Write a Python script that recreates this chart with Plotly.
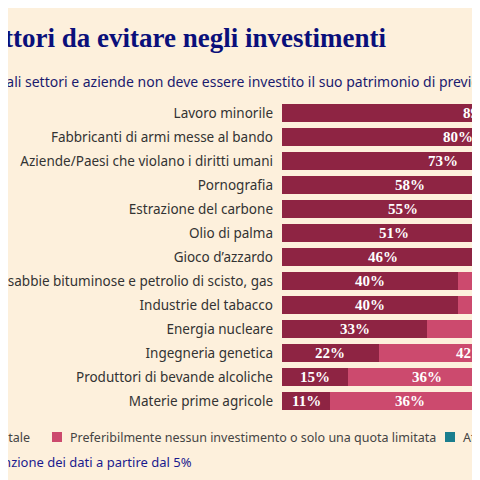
import plotly.graph_objects as go

categories = ["Lavoro minorile", "Fabbricanti di armi messe al bando", "Aziende/Paesi che violano i diritti umani",
              "Pornografia", "Estrazione del carbone", "Olio di palma", "Gioco d’azzardo",
              "Petrolio da sabbie bituminose e petrolio di scisto, gas", "Industrie del tabacco",
              "Energia nucleare", "Ingegneria genetica", "Produttori di bevande alcoliche", "Materie prime agricole"]
totale = [89, 80, 73, 58, 55, 51, 46, 40, 40, 33, 22, 15, 11]
limitata = [7, 12, 18, 28, 32, 36, 38, 42, 40, 40, 42, 36, 36]
neutro = [3, 5, 6, 10, 9, 9, 11, 13, 14, 19, 25, 35, 40]
names = ["Nessun investimento totale", "Preferibilmente nessun investimento o solo una quota limitata",
         "Atteggiamento neutro"]
colors = ["#8E2443", "#CC4A6E", "#1B7E8E"]
bg = "#FDF0DC"

fig = go.Figure()
for vals, name, c in zip([totale, limitata, neutro], names, colors):
    fig.add_trace(go.Bar(y=categories, x=vals, orientation="h", name=name,
                         marker=dict(color=c, line=dict(width=0)), showlegend=False))

serif = dict(family="Liberation Serif", size=15, color="white")
for i, cat in enumerate(categories):
    cum = 0
    for vals in [totale, limitata]:
        v = vals[i]
        if v >= 5:
            fig.add_annotation(x=cum + v / 2, y=cat, text=f"<b>{v}%</b>", showarrow=False,
                               font=serif, xref="x", yref="y")
        cum += v

fig.add_annotation(x=380 / 480, y=1 - 30 / 480, xref="paper", yref="paper", xanchor="right",
                   yanchor="middle", showarrow=False,
                   text="<b>Settori da evitare negli investimenti</b>",
                   font=dict(family="Liberation Serif", size=27, color="#0A0F7A"))
fig.add_annotation(x=505 / 480, y=1 - 73 / 480, xref="paper", yref="paper", xanchor="right",
                   yanchor="middle", showarrow=False,
                   text="In quali settori e aziende non deve essere investito il suo patrimonio di previdenza",
                   font=dict(family="Noto Sans", size=14, color="#1A1A6E"))
leg = dict(family="Noto Sans", size=12.5, color="#444")
fig.add_annotation(x=24 / 480, y=1 - 429 / 480, xref="paper", yref="paper", xanchor="right",
                   yanchor="middle", showarrow=False, text=names[0], font=leg)
fig.add_annotation(x=60 / 480, y=1 - 429 / 480, xref="paper", yref="paper", xanchor="left",
                   yanchor="middle", showarrow=False, text=names[1], font=leg)
fig.add_annotation(x=453 / 480, y=1 - 429 / 480, xref="paper", yref="paper", xanchor="left",
                   yanchor="middle", showarrow=False, text=names[2], font=leg)
for x0, c in [(44, colors[1]), (437, colors[2])]:
    fig.add_shape(type="rect", xref="paper", yref="paper", x0=x0 / 480, x1=(x0 + 10) / 480,
                  y0=1 - 434 / 480, y1=1 - 424 / 480, fillcolor=c, line=dict(width=0))
fig.add_annotation(x=186 / 480, y=1 - 454 / 480, xref="paper", yref="paper", xanchor="right",
                   yanchor="middle", showarrow=False, text="Menzione dei dati a partire dal 5%",
                   font=dict(family="Noto Sans", size=13, color="#1A1A8E"))

px = (480 - 274) / 4.4
fig.update_layout(
    width=480, height=480, barmode="stack", bargap=0.29,
    paper_bgcolor=bg, plot_bgcolor=bg, margin=dict(l=0, r=0, t=0, b=0, autoexpand=False),
    xaxis=dict(range=[0, px], domain=[274 / 480, 1], visible=False, fixedrange=True, automargin=False),
    yaxis=dict(autorange="reversed", domain=[(480 - 405) / 480, (480 - 93) / 480], automargin=False,
               ticks="", showgrid=False, showline=False, ticklabelstandoff=8,
               tickfont=dict(family="Noto Sans", size=13.5, color="#333")),
)
fig.write_html("out.html")
